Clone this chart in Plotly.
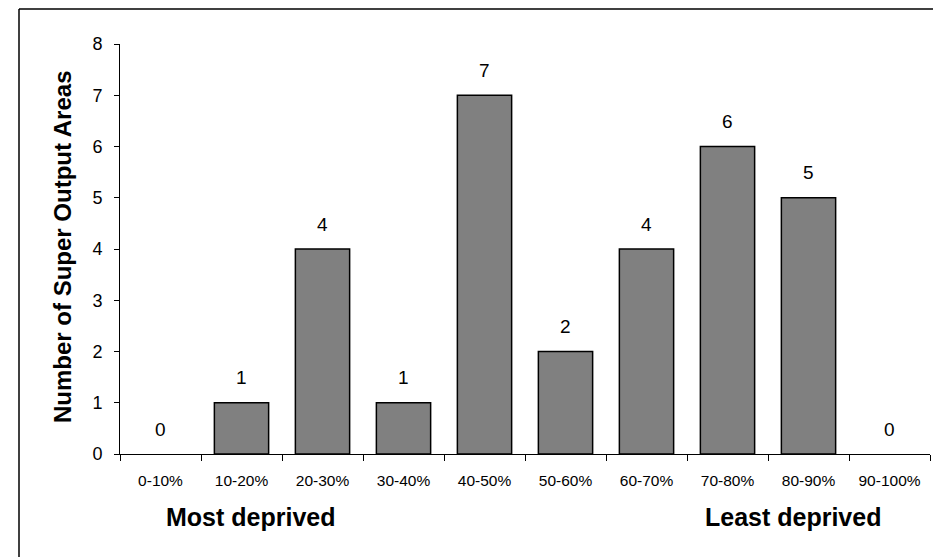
import plotly.graph_objects as go

categories = ["0-10%", "10-20%", "20-30%", "30-40%", "40-50%",
              "50-60%", "60-70%", "70-80%", "80-90%", "90-100%"]
counts = [0, 1, 4, 1, 7, 2, 4, 6, 5, 0]
y_ticks = [0, 1, 2, 3, 4, 5, 6, 7, 8]

# page has default 8px body margin; work in screen coordinates
OFF = 8
SW, SH = 941, 557
W, H = SW - OFF, SH - OFF
PL, PR, PT, PB = 120, 930, 44, 454   # plot area in screen px
L, T = PL - OFF, PT - OFF
R = W - (PR - OFF)
B = H - (PB - OFF)
PW = PR - PL
PH = PB - PT

def px(x):
    return (x - PL) / PW

def py(y):
    return (PB - y) / PH

FONT = "Liberation Sans, Arial, sans-serif"

fig = go.Figure()
fig.add_trace(go.Bar(
    x=categories, y=counts,
    marker=dict(color="#808080",
                line=dict(color="black", width=[1.5 if v > 0 else 0 for v in counts])),
    width=0.67,
    hoverinfo="skip",
))

for c, v in zip(categories, counts):
    fig.add_annotation(x=c, y=v, text=str(v), showarrow=False,
                       yshift=25, font=dict(size=19, color="black", family=FONT))

fig.add_annotation(xref="paper", yref="paper", x=px(62), y=py(247),
                   xanchor="center", yanchor="middle",
                   text="<b>Number of Super Output Areas</b>", textangle=-90,
                   showarrow=False, font=dict(size=24, color="black", family=FONT))
fig.add_annotation(xref="paper", yref="paper", x=px(250), y=py(517),
                   xanchor="center", yanchor="middle",
                   text="<b>Most deprived</b>", showarrow=False,
                   font=dict(size=25, color="black", family=FONT))
fig.add_annotation(xref="paper", yref="paper", x=px(793), y=py(517),
                   xanchor="center", yanchor="middle",
                   text="<b>Least deprived</b>", showarrow=False,
                   font=dict(size=25, color="black", family=FONT))

# outer frame (top and left edges visible)
fig.add_shape(type="line", xref="paper", yref="paper",
              x0=px(19), y0=py(9), x1=px(960), y1=py(9),
              line=dict(color="black", width=1.5))
fig.add_shape(type="line", xref="paper", yref="paper",
              x0=px(19), y0=py(9), x1=px(19), y1=py(580),
              line=dict(color="black", width=1.5))

fig.update_layout(
    width=W, height=H,
    margin=dict(l=L, r=R, t=T, b=B),
    paper_bgcolor="white", plot_bgcolor="white",
    showlegend=False,
    font=dict(family=FONT, color="black"),
    xaxis=dict(
        type="category", tickson="boundaries", ticks="outside", ticklen=6,
        tickcolor="black", showline=True, linecolor="black", linewidth=1,
        showgrid=False, tickfont=dict(size=15.5, family=FONT, color="black"),
        ticklabelstandoff=12, range=[-0.5, 9.5],
    ),
    yaxis=dict(
        range=[0, 8], tickvals=y_ticks, ticks="outside", ticklen=5,
        tickcolor="black", showline=True, linecolor="black", linewidth=1,
        showgrid=False, zeroline=False,
        tickfont=dict(size=18, family=FONT, color="black"),
        ticklabelstandoff=8,
    ),
)

fig.write_html("out.html")
